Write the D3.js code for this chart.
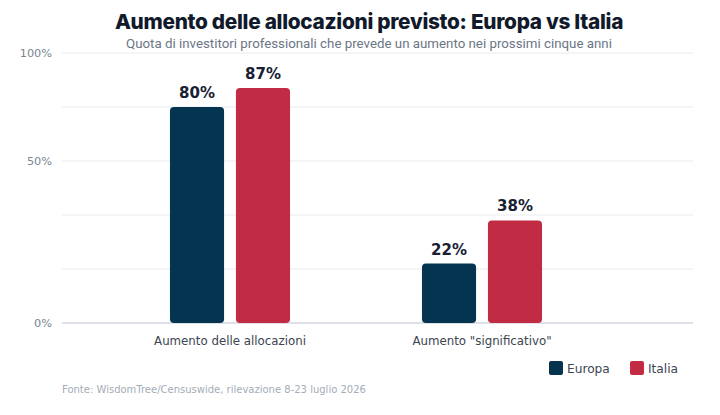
<!DOCTYPE html>
<html>
<head>
<meta charset="utf-8">
<script src="https://cdn.jsdelivr.net/npm/d3@7"></script>
<style>
  html, body { margin: 0; padding: 0; background: #fff; }
  svg { display: block; }
</style>
</head>
<body>
<div id="chart"></div>
<script>
// data
const categories = ['Aumento delle allocazioni', 'Aumento "significativo"'];
const seriesNames = ['Europa', 'Italia'];
const europaValues = [80, 22];
const italiaValues = [87, 38];
const gridValues = [0, 20, 40, 60, 80, 100];
const yTickValues = [0, 60, 100];
const yTickLabels = ['0%', '50%', '100%'];

const colors = { Europa: '#04344f', Italia: '#c12b43' };

const width = 720;
const height = 415;
const margin = { top: 53, right: 27, bottom: 92, left: 62 };
const innerH = height - margin.top - margin.bottom;

const rows = categories.map((c, i) => ({
    category: c,
    values: [
        { key: 'Europa', value: europaValues[i] },
        { key: 'Italia', value: italiaValues[i] }
    ]
}));

const svg = d3.select('#chart')
    .append('svg')
    .attr('width', width)
    .attr('height', height);

// title + subtitle
svg.append('text')
    .attr('x', 369)
    .attr('y', 29)
    .attr('text-anchor', 'middle')
    .style('font-family', 'Inter, "Open Sans", sans-serif')
    .style('font-weight', 800)
    .style('font-size', '20.8px')
    .style('letter-spacing', '-0.3px')
    .attr('fill', '#111a2b')
    .text('Aumento delle allocazioni previsto: Europa vs Italia');

svg.append('text')
    .attr('x', 369)
    .attr('y', 48)
    .attr('text-anchor', 'middle')
    .style('font-family', 'Roboto, sans-serif')
    .style('font-size', '13.3px')
    .attr('fill', '#6b7685')
    .text('Quota di investitori professionali che prevede un aumento nei prossimi cinque anni');

const g = svg.append('g')
    .attr('transform', `translate(${margin.left}, ${margin.top})`);

const plotW = width - margin.left - margin.right;

const y = d3.scaleLinear()
    .domain([0, 100])
    .range([innerH, 0]);

const x0 = d3.scaleBand()
    .domain(categories)
    .range([42, 546]);

const x1 = d3.scaleBand()
    .domain(seriesNames)
    .range([0, x0.bandwidth()])
    .paddingInner(0.18)
    .paddingOuter(1);

// grid lines
g.append('g')
    .selectAll('line')
    .data(gridValues)
    .enter()
    .append('line')
    .attr('x1', 0)
    .attr('x2', plotW)
    .attr('y1', d => y(d))
    .attr('y2', d => y(d))
    .attr('stroke', d => (d === 0 ? '#d3d9e0' : '#e8ebef'))
    .attr('stroke-width', d => (d === 0 ? 1.3 : 1));

// y axis labels
const yAxis = g.append('g')
    .call(d3.axisLeft(y)
        .tickValues(yTickValues)
        .tickFormat((d, i) => yTickLabels[i])
        .tickSize(0)
        .tickPadding(10));
yAxis.select('.domain').remove();
yAxis.selectAll('text')
    .style('font-family', '"DejaVu Sans", sans-serif')
    .style('font-size', '11.3px')
    .attr('fill', '#7a8592');

// bars
const groups = g.selectAll('.group')
    .data(rows)
    .enter()
    .append('g')
    .attr('class', 'group')
    .attr('transform', d => `translate(${x0(d.category)}, 0)`);

groups.selectAll('rect')
    .data(d => d.values)
    .enter()
    .append('rect')
    .attr('x', d => x1(d.key))
    .attr('y', d => y(d.value))
    .attr('width', x1.bandwidth())
    .attr('height', d => innerH - y(d.value))
    .attr('rx', 4)
    .attr('fill', d => colors[d.key]);

groups.selectAll('.val')
    .data(d => d.values)
    .enter()
    .append('text')
    .attr('class', 'val')
    .attr('x', d => x1(d.key) + x1.bandwidth() / 2)
    .attr('y', d => y(d.value) - 9)
    .attr('text-anchor', 'middle')
    .style('font-family', '"DejaVu Sans", sans-serif')
    .style('font-weight', 'bold')
    .style('font-size', '15px')
    .attr('fill', '#172133')
    .text(d => `${d.value}%`);

// x axis labels
const xAxis = g.append('g')
    .attr('transform', `translate(0, ${innerH})`)
    .call(d3.axisBottom(x0).tickSize(0).tickPadding(14));
xAxis.select('.domain').remove();
xAxis.selectAll('text')
    .style('font-family', '"DejaVu Sans", sans-serif')
    .style('font-size', '11.8px')
    .attr('fill', '#3b4452');

// legend
const legend = svg.append('g')
    .attr('transform', 'translate(549, 361)');
const legendX = [0, 81];
seriesNames.forEach((name, i) => {
    const item = legend.append('g')
        .attr('transform', `translate(${legendX[i]}, 0)`);
    item.append('rect')
        .attr('width', 14)
        .attr('height', 14)
        .attr('rx', 2)
        .attr('fill', colors[name]);
    item.append('text')
        .attr('x', 18)
        .attr('y', 12)
        .style('font-family', '"DejaVu Sans", sans-serif')
        .style('font-size', '12.2px')
        .attr('fill', '#3b4452')
        .text(name);
});

// source
svg.append('text')
    .attr('x', 62)
    .attr('y', 393)
    .style('font-family', '"DejaVu Sans", sans-serif')
    .style('font-size', '10px')
    .attr('fill', '#a3adb8')
    .text('Fonte: WisdomTree/Censuswide, rilevazione 8-23 luglio 2026');
</script>
</body>
</html>
